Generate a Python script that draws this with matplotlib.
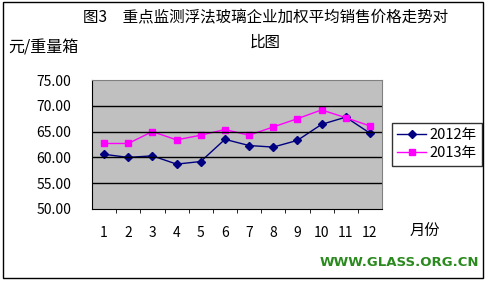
import numpy as np
import matplotlib
matplotlib.use("Agg")
import matplotlib.pyplot as plt
from matplotlib.patches import Rectangle

plt.rcParams['font.family'] = ['Noto Sans CJK SC', 'DejaVu Sans']

months = [1, 2, 3, 4, 5, 6, 7, 8, 9, 10, 11, 12]
price_2012 = [60.6, 60.0, 60.3, 58.7, 59.2, 63.5, 62.3, 62.0, 63.3, 66.4, 67.8, 64.7]
price_2013 = [62.7, 62.7, 65.0, 63.4, 64.3, 65.4, 64.3, 65.9, 67.5, 69.2, 67.7, 66.1]
yticks = [50, 55, 60, 65, 70, 75]

fig = plt.figure(figsize=(4.93, 2.83), dpi=100)
fig.patch.set_facecolor('white')

# outer chart frame
fig.patches.append(Rectangle((3 / 493, 5 / 283), 480 / 493, 276 / 283,
                             transform=fig.transFigure, fill=False,
                             edgecolor='black', linewidth=1))

ax = fig.add_axes([92 / 493, 1 - 209 / 283, 290 / 493, 129 / 283])
ax.set_facecolor('#C0C0C0')

ax.plot(months, price_2012, color='#000080', marker='D', markersize=4,
        linewidth=1, label='2012年')
ax.plot(months, price_2013, color='#FF00FF', marker='s', markersize=5,
        linewidth=1, label='2013年')

ax.set_xlim(0.5, 12.5)
ax.set_ylim(50, 75)
ax.set_yticks(yticks)
ax.set_yticklabels(['%.2f' % v for v in yticks], fontsize=10)
ax.set_xticks(months)
ax.set_xticklabels([str(m) for m in months], fontsize=10)
ax.tick_params(axis='x', length=0, pad=12)
ax.tick_params(axis='y', length=0, pad=15)
ax.set_xticks(np.arange(1.5, 12.5, 1), minor=True)
ax.tick_params(axis='x', which='minor', length=3, direction='out', color='black')

for v in yticks[1:-1]:
    ax.axhline(v, color='black', linewidth=1)

for side in ['left', 'bottom']:
    ax.spines[side].set_color('black')
for side in ['top', 'right']:
    ax.spines[side].set_color('#808080')

leg = ax.legend(loc='upper left', bbox_to_anchor=(300 / 290, 86 / 129), frameon=True,
                fancybox=False, edgecolor='black', fontsize=10.5,
                handlelength=2.0, borderpad=0.35, labelspacing=0.3,
                handletextpad=0.2, borderaxespad=0)
leg.get_frame().set_linewidth(1)

fig.text(266 / 493, 1 - 18 / 283, '图3　重点监测浮法玻璃企业加权平均销售价格走势对',
         ha='center', va='center', fontsize=11.2)
fig.text(265 / 493, 1 - 42 / 283, '比图', ha='center', va='center', fontsize=11.2)
fig.text(8 / 493, 1 - 48 / 283, '元/重量箱', ha='left', va='center', fontsize=11.5)
fig.text(425 / 493, 1 - 231 / 283, '月份', ha='center', va='center', fontsize=11)
fig.text(399 / 493, 1 - 262 / 283, 'WWW.GLASS.ORG.CN', ha='center', va='center',
         fontsize=9.5, fontweight='bold', color='#2A8A1E', family='DejaVu Sans')

fig.savefig('out.png', dpi=100)
